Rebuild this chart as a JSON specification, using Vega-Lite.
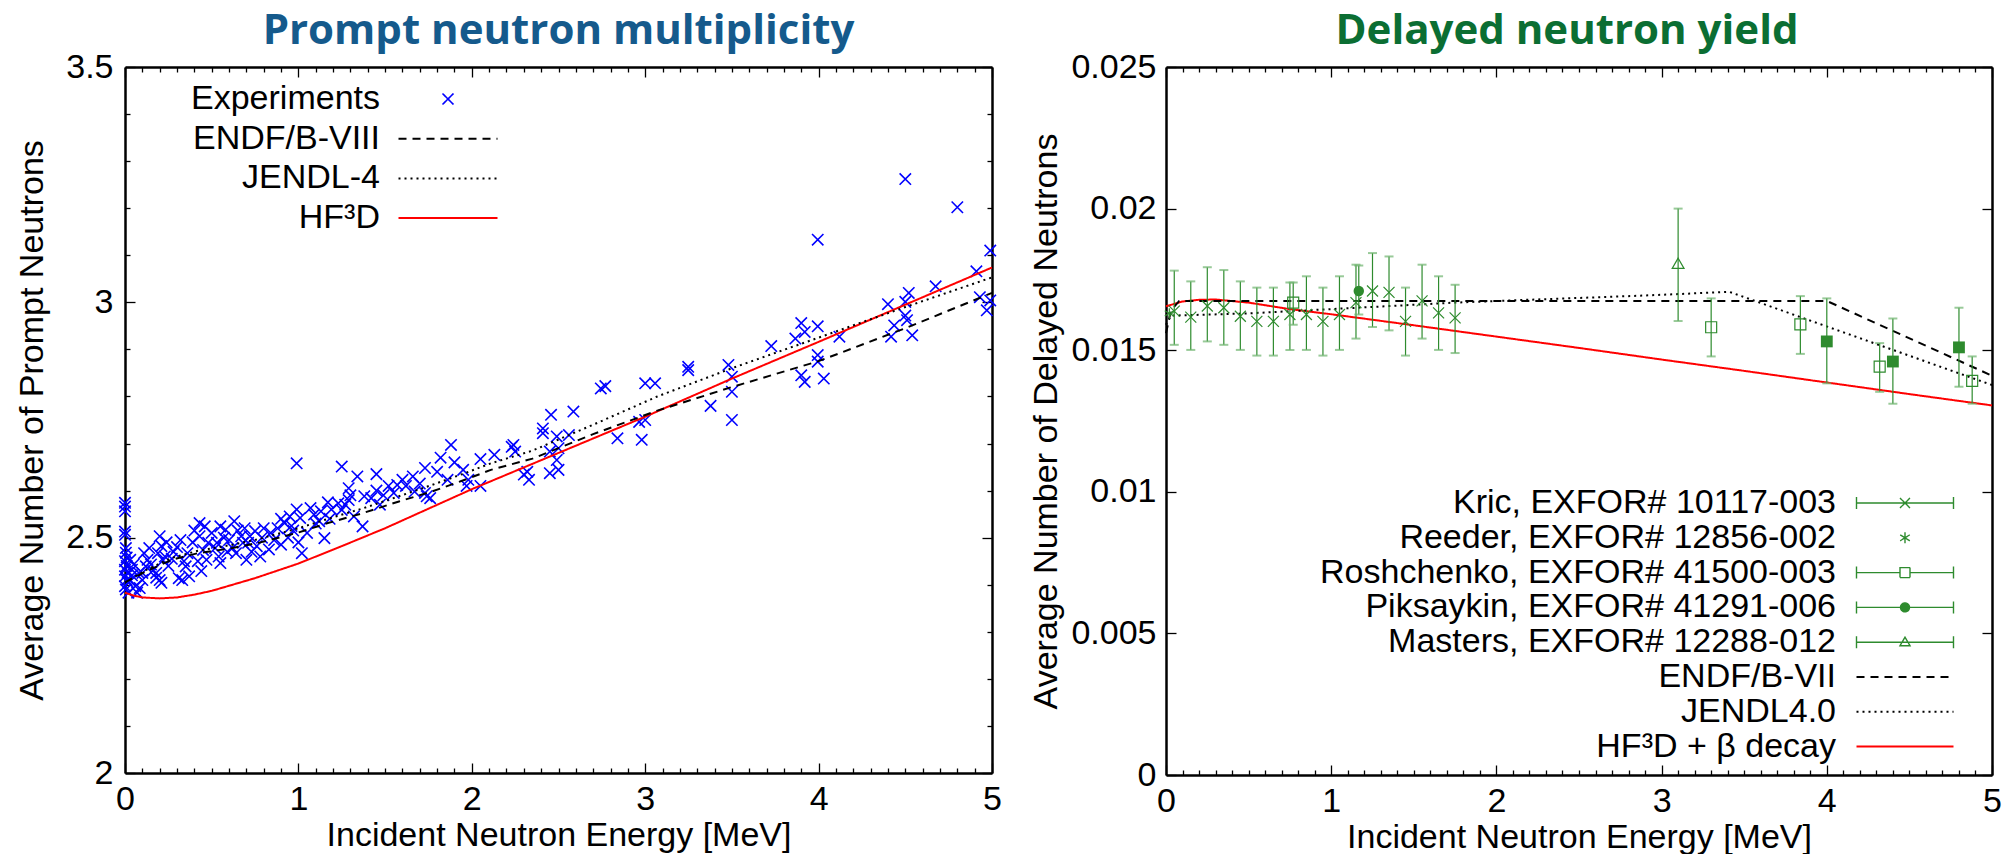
{
"$schema": "https://vega.github.io/schema/vega-lite/v6.json",
"padding": {"left": 15, "top": 10, "right": 0, "bottom": 0},
"bounds": "flush",
"spacing": 174,
"datasets": {
"left_exp": [
{"E":0,"v":2.574},{"E":0,"v":2.566},{"E":0,"v":2.556},{"E":0,"v":2.513},{"E":0,"v":2.506},{"E":0.005,"v":2.478},{"E":0.005,"v":2.468},{"E":0.01,"v":2.458},{"E":0,"v":2.45},{"E":0.01,"v":2.44},{"E":0,"v":2.432},{"E":0.015,"v":2.425},{"E":0,"v":2.418},{"E":0.01,"v":2.41},{"E":0.02,"v":2.404},{"E":0,"v":2.397},{"E":0.005,"v":2.39},{"E":0.02,"v":2.383},{"E":0.03,"v":2.453},{"E":0.04,"v":2.432},{"E":0.03,"v":2.41},{"E":0.05,"v":2.443},{"E":0.06,"v":2.397},{"E":0.07,"v":2.383},{"E":0.04,"v":2.42},{"E":0.08,"v":2.425},
{"E":0.11,"v":2.467},{"E":0.12,"v":2.439},{"E":0.1,"v":2.425},{"E":0.1,"v":2.41},{"E":0.085,"v":2.393},{"E":0.13,"v":2.453},{"E":0.15,"v":2.443},{"E":0.14,"v":2.478},{"E":0.16,"v":2.43},{"E":0.18,"v":2.415},
{"E":0.2,"v":2.41},{"E":0.21,"v":2.404},{"E":0.18,"v":2.425},{"E":0.2,"v":2.503},{"E":0.21,"v":2.482},{"E":0.19,"v":2.467},{"E":0.23,"v":2.46},{"E":0.24,"v":2.49},{"E":0.25,"v":2.44},{"E":0.22,"v":2.452},
{"E":0.36,"v":2.467},{"E":0.34,"v":2.45},{"E":0.35,"v":2.439},{"E":0.37,"v":2.418},{"E":0.33,"v":2.41},{"E":0.31,"v":2.414},{"E":0.3,"v":2.48},{"E":0.32,"v":2.495},{"E":0.28,"v":2.47},{"E":0.27,"v":2.455},
{"E":0.43,"v":2.531},{"E":0.46,"v":2.524},{"E":0.43,"v":2.503},{"E":0.48,"v":2.489},{"E":0.45,"v":2.474},{"E":0.47,"v":2.453},{"E":0.42,"v":2.45},{"E":0.44,"v":2.429},{"E":0.4,"v":2.515},{"E":0.39,"v":2.49},
{"E":0.55,"v":2.524},{"E":0.58,"v":2.517},{"E":0.57,"v":2.5},{"E":0.53,"v":2.489},{"E":0.52,"v":2.478},{"E":0.54,"v":2.46},{"E":0.55,"v":2.446},{"E":0.5,"v":2.51},{"E":0.6,"v":2.495},{"E":0.59,"v":2.47},
{"E":0.67,"v":2.503},{"E":0.68,"v":2.489},{"E":0.7,"v":2.453},{"E":0.64,"v":2.467},{"E":0.62,"v":2.478},{"E":0.65,"v":2.515},{"E":0.63,"v":2.535},{"E":0.69,"v":2.52},
{"E":0.75,"v":2.514},{"E":0.72,"v":2.503},{"E":0.71,"v":2.489},{"E":0.76,"v":2.482},{"E":0.73,"v":2.47},{"E":0.79,"v":2.5},{"E":0.8,"v":2.52},{"E":0.78,"v":2.46},
{"E":0.92,"v":2.531},{"E":0.88,"v":2.52},{"E":0.84,"v":2.51},{"E":0.86,"v":2.495},{"E":0.9,"v":2.485},{"E":0.83,"v":2.475},{"E":0.94,"v":2.5},{"E":0.9,"v":2.54},
{"E":0.99,"v":2.56},{"E":1.01,"v":2.542},{"E":0.95,"v":2.545},{"E":0.99,"v":2.658},{"E":1.02,"v":2.467},{"E":0.97,"v":2.515},{"E":1.0,"v":2.49},{"E":0.96,"v":2.525},
{"E":1.07,"v":2.563},{"E":1.09,"v":2.549},{"E":1.13,"v":2.556},{"E":1.19,"v":2.56},{"E":1.15,"v":2.499},{"E":1.1,"v":2.53},{"E":1.17,"v":2.575},{"E":1.05,"v":2.51},{"E":1.12,"v":2.535},{"E":1.18,"v":2.54},
{"E":1.25,"v":2.651},{"E":1.29,"v":2.605},{"E":1.3,"v":2.59},{"E":1.29,"v":2.58},{"E":1.23,"v":2.573},{"E":1.25,"v":2.559},{"E":1.37,"v":2.524},{"E":1.34,"v":2.63},{"E":1.32,"v":2.545},{"E":1.27,"v":2.57},
{"E":1.45,"v":2.635},{"E":1.49,"v":2.59},{"E":1.42,"v":2.584},{"E":1.38,"v":2.588},{"E":1.45,"v":2.6},{"E":1.52,"v":2.61},{"E":1.47,"v":2.57},{"E":1.55,"v":2.595},
{"E":1.6,"v":2.623},{"E":1.62,"v":2.61},{"E":1.67,"v":2.598},{"E":1.57,"v":2.612},{"E":1.73,"v":2.595},{"E":1.76,"v":2.584},{"E":1.74,"v":2.588},{"E":1.73,"v":2.648},{"E":1.66,"v":2.63},{"E":1.7,"v":2.615},
{"E":1.82,"v":2.67},{"E":1.88,"v":2.697},{"E":1.9,"v":2.66},{"E":1.95,"v":2.644},{"E":1.8,"v":2.64},{"E":1.86,"v":2.623},{"E":1.98,"v":2.623},{"E":2.05,"v":2.61},{"E":1.97,"v":2.61},{"E":2.05,"v":2.667},
{"E":2.13,"v":2.676},{"E":2.23,"v":2.693},{"E":2.25,"v":2.683},{"E":2.3,"v":2.634},{"E":2.33,"v":2.623},{"E":2.24,"v":2.697},{"E":2.32,"v":2.64},
{"E":2.41,"v":2.722},{"E":2.49,"v":2.715},{"E":2.56,"v":2.718},{"E":2.45,"v":2.683},{"E":2.5,"v":2.69},{"E":2.49,"v":2.665},{"E":2.45,"v":2.637},{"E":2.5,"v":2.644},{"E":2.457,"v":2.761},{"E":2.586,"v":2.768},{"E":2.41,"v":2.732},
{"E":2.84,"v":2.711},{"E":2.98,"v":2.708},{"E":2.77,"v":2.822},{"E":2.744,"v":2.817},{"E":2.965,"v":2.746},{"E":3.0,"v":2.75},{"E":3.0,"v":2.828},{"E":3.057,"v":2.828},
{"E":3.248,"v":2.863},{"E":3.248,"v":2.856},{"E":3.377,"v":2.78},{"E":3.48,"v":2.867},{"E":3.5,"v":2.842},{"E":3.5,"v":2.81},{"E":3.5,"v":2.75},
{"E":3.727,"v":2.907},{"E":3.866,"v":2.923},{"E":3.9,"v":2.956},{"E":3.92,"v":2.937},{"E":3.995,"v":2.949},{"E":3.9,"v":2.845},{"E":3.92,"v":2.831},{"E":3.995,"v":2.888},{"E":3.995,"v":2.874},{"E":4.03,"v":2.838},{"E":3.995,"v":3.133},{"E":4.12,"v":2.927},
{"E":4.4,"v":2.996},{"E":4.418,"v":2.927},{"E":4.436,"v":2.951},{"E":4.5,"v":2.972},{"E":4.51,"v":2.962},{"E":4.5,"v":3.001},{"E":4.52,"v":3.02},{"E":4.54,"v":2.93},{"E":4.5,"v":3.262},{"E":4.675,"v":3.034},{"E":4.8,"v":3.202},{"E":4.91,"v":3.066},{"E":4.93,"v":3.011},{"E":4.99,"v":3.004},{"E":4.97,"v":2.983},{"E":4.99,"v":3.11}
],
"left_curves": [
{"series":"HF³D","E":0,"v":2.383},{"series":"HF³D","E":0.05,"v":2.377},{"series":"HF³D","E":0.1,"v":2.373},{"series":"HF³D","E":0.2,"v":2.371},{"series":"HF³D","E":0.3,"v":2.373},{"series":"HF³D","E":0.4,"v":2.379},{"series":"HF³D","E":0.5,"v":2.387},{"series":"HF³D","E":0.75,"v":2.414},{"series":"HF³D","E":1.0,"v":2.445},{"series":"HF³D","E":1.25,"v":2.482},{"series":"HF³D","E":1.5,"v":2.52},{"series":"HF³D","E":2.0,"v":2.603},{"series":"HF³D","E":2.5,"v":2.68},{"series":"HF³D","E":3.0,"v":2.757},{"series":"HF³D","E":3.5,"v":2.838},{"series":"HF³D","E":4.0,"v":2.916},{"series":"HF³D","E":4.5,"v":2.995},{"series":"HF³D","E":5.0,"v":3.074},
{"series":"ENDF/B-VIII","E":0,"v":2.405},{"series":"ENDF/B-VIII","E":0.125,"v":2.429},{"series":"ENDF/B-VIII","E":0.27,"v":2.453},{"series":"ENDF/B-VIII","E":0.42,"v":2.467},{"series":"ENDF/B-VIII","E":0.62,"v":2.478},{"series":"ENDF/B-VIII","E":0.77,"v":2.489},{"series":"ENDF/B-VIII","E":1.0,"v":2.511},{"series":"ENDF/B-VIII","E":1.17,"v":2.531},{"series":"ENDF/B-VIII","E":1.37,"v":2.552},{"series":"ENDF/B-VIII","E":1.58,"v":2.577},{"series":"ENDF/B-VIII","E":1.77,"v":2.598},{"series":"ENDF/B-VIII","E":1.96,"v":2.623},{"series":"ENDF/B-VIII","E":2.11,"v":2.644},{"series":"ENDF/B-VIII","E":2.35,"v":2.668},{"series":"ENDF/B-VIII","E":2.7,"v":2.72},{"series":"ENDF/B-VIII","E":3.07,"v":2.77},{"series":"ENDF/B-VIII","E":3.5,"v":2.82},{"series":"ENDF/B-VIII","E":4.0,"v":2.875},{"series":"ENDF/B-VIII","E":4.5,"v":2.945},{"series":"ENDF/B-VIII","E":5.0,"v":3.02},
{"series":"JENDL-4","E":0,"v":2.405},{"series":"JENDL-4","E":0.125,"v":2.432},{"series":"JENDL-4","E":0.27,"v":2.457},{"series":"JENDL-4","E":0.42,"v":2.472},{"series":"JENDL-4","E":0.62,"v":2.485},{"series":"JENDL-4","E":0.77,"v":2.497},{"series":"JENDL-4","E":1.0,"v":2.52},{"series":"JENDL-4","E":1.17,"v":2.54},{"series":"JENDL-4","E":1.37,"v":2.562},{"series":"JENDL-4","E":1.58,"v":2.588},{"series":"JENDL-4","E":1.77,"v":2.612},{"series":"JENDL-4","E":1.96,"v":2.637},{"series":"JENDL-4","E":2.11,"v":2.658},{"series":"JENDL-4","E":2.35,"v":2.685},{"series":"JENDL-4","E":2.7,"v":2.74},{"series":"JENDL-4","E":3.07,"v":2.8},{"series":"JENDL-4","E":3.5,"v":2.86},{"series":"JENDL-4","E":4.0,"v":2.925},{"series":"JENDL-4","E":4.5,"v":2.99},{"series":"JENDL-4","E":5.0,"v":3.053}
],
"right_curves": [
{"model":"HF³D + β decay","E":0,"v":0.01655},{"model":"HF³D + β decay","E":0.1,"v":0.01672},{"model":"HF³D + β decay","E":0.2,"v":0.01678},{"model":"HF³D + β decay","E":0.3,"v":0.01679},{"model":"HF³D + β decay","E":0.5,"v":0.01668},{"model":"HF³D + β decay","E":0.75,"v":0.01645},{"model":"HF³D + β decay","E":1.0,"v":0.01627},{"model":"HF³D + β decay","E":1.5,"v":0.01588},{"model":"HF³D + β decay","E":2.0,"v":0.01548},{"model":"HF³D + β decay","E":2.5,"v":0.01508},{"model":"HF³D + β decay","E":3.0,"v":0.01467},{"model":"HF³D + β decay","E":3.5,"v":0.01427},{"model":"HF³D + β decay","E":4.0,"v":0.01386},{"model":"HF³D + β decay","E":4.5,"v":0.01345},{"model":"HF³D + β decay","E":5.0,"v":0.01305},
{"model":"ENDF/B-VII","E":0,"v":0.0156},{"model":"ENDF/B-VII","E":0.03,"v":0.0164},{"model":"ENDF/B-VII","E":0.08,"v":0.01674},{"model":"ENDF/B-VII","E":4.0,"v":0.01674},{"model":"ENDF/B-VII","E":5.0,"v":0.0141},
{"model":"JENDL4.0","E":0,"v":0.0159},{"model":"JENDL4.0","E":0.03,"v":0.01622},{"model":"JENDL4.0","E":0.5,"v":0.0163},{"model":"JENDL4.0","E":1.16,"v":0.0165},{"model":"JENDL4.0","E":1.75,"v":0.01668},{"model":"JENDL4.0","E":2.1,"v":0.01676},{"model":"JENDL4.0","E":2.85,"v":0.01692},{"model":"JENDL4.0","E":3.41,"v":0.01706},{"model":"JENDL4.0","E":5.0,"v":0.01377}
],
"right_exp": [
{"series":"Kric","E":0.05,"v":0.01638,"lo":0.01519,"hi":0.01781},
{"series":"Kric","E":0.15,"v":0.01617,"lo":0.01501,"hi":0.01743},
{"series":"Kric","E":0.25,"v":0.01656,"lo":0.01531,"hi":0.01793},
{"series":"Kric","E":0.35,"v":0.0165,"lo":0.01519,"hi":0.01783},
{"series":"Kric","E":0.45,"v":0.0162,"lo":0.01501,"hi":0.01743},
{"series":"Kric","E":0.55,"v":0.01602,"lo":0.01481,"hi":0.01721},
{"series":"Kric","E":0.65,"v":0.01602,"lo":0.01481,"hi":0.01721},
{"series":"Kric","E":0.75,"v":0.01626,"lo":0.01501,"hi":0.01739},
{"series":"Kric","E":0.85,"v":0.01626,"lo":0.01501,"hi":0.01761},
{"series":"Kric","E":0.95,"v":0.01602,"lo":0.01481,"hi":0.01721},
{"series":"Kric","E":1.05,"v":0.01626,"lo":0.01501,"hi":0.01761},
{"series":"Kric","E":1.15,"v":0.01668,"lo":0.01541,"hi":0.01802},
{"series":"Kric","E":1.25,"v":0.01709,"lo":0.01582,"hi":0.01843},
{"series":"Kric","E":1.35,"v":0.01704,"lo":0.0157,"hi":0.01831},
{"series":"Kric","E":1.45,"v":0.01602,"lo":0.01481,"hi":0.01721},
{"series":"Kric","E":1.55,"v":0.01674,"lo":0.01541,"hi":0.01802},
{"series":"Kric","E":1.65,"v":0.01632,"lo":0.01501,"hi":0.01761},
{"series":"Kric","E":1.75,"v":0.01614,"lo":0.0149,"hi":0.01731},
{"series":"Reeder","E":0.02,"v":0.0163,"lo":null,"hi":null},
{"series":"Roshchenko","E":0.77,"v":0.01668,"lo":0.0159,"hi":0.01739},
{"series":"Roshchenko","E":3.3,"v":0.01581,"lo":0.01478,"hi":0.01683},
{"series":"Roshchenko","E":3.84,"v":0.01591,"lo":0.01487,"hi":0.01691},
{"series":"Roshchenko","E":4.32,"v":0.01442,"lo":0.01353,"hi":0.01525},
{"series":"Roshchenko","E":4.88,"v":0.01392,"lo":0.01311,"hi":0.01478},
{"series":"Piksaykin","E":1.167,"v":0.01709,"lo":0.01626,"hi":0.01799},
{"series":"PiksaykinSq","E":4.0,"v":0.01531,"lo":0.01383,"hi":0.01683},
{"series":"PiksaykinSq","E":4.4,"v":0.0146,"lo":0.01311,"hi":0.01612},
{"series":"PiksaykinSq","E":4.8,"v":0.0151,"lo":0.01371,"hi":0.0165},
{"series":"Masters","E":3.1,"v":0.01807,"lo":0.01603,"hi":0.02}
]
},
"hconcat": [
{
"width": 867, "height": 706,
"title": {"text": "Prompt neutron multiplicity", "font": "Open Sans", "fontSize": 42, "fontWeight": "bold", "color": "#155A8C", "offset": -45, "baseline": "bottom", "anchor": "middle"},
"layer": [
{
"data": {"name": "left_exp"},
"mark": {"type": "point", "shape": "M-1,-1L1,1M-1,1L1,-1", "size": 130, "filled": false, "color": "#0000FF", "strokeWidth": 1.6, "opacity": 1},
"encoding": {
"x": {"field": "E", "type": "quantitative", "scale": {"domain": [0, 5], "nice": false, "zero": false},
"axis": {"orient": "bottom", "values": [0,0.1,0.2,0.3,0.4,0.5,0.6,0.7,0.8,0.9,1,1.1,1.2,1.3,1.4,1.5,1.6,1.7,1.8,1.9,2,2.1,2.2,2.3,2.4,2.5,2.6,2.7,2.8,2.9,3,3.1,3.2,3.3,3.4,3.5,3.6,3.7,3.8,3.9,4,4.1,4.2,4.3,4.4,4.5,4.6,4.7,4.8,4.9,5],
"labelExpr": "datum.value == round(datum.value) ? format(datum.value, 'd') : ''",
"tickSize": {"condition": {"test": "datum.value == round(datum.value)", "value": -10}, "value": -5},
"labelPadding": 19, "labelAngle": 0, "title": "Incident Neutron Energy [MeV]", "titlePadding": -3}},
"y": {"field": "v", "type": "quantitative", "scale": {"domain": [2, 3.5], "nice": false, "zero": false},
"axis": {"orient": "left", "values": [2,2.1,2.2,2.3,2.4,2.5,2.6,2.7,2.8,2.9,3,3.1,3.2,3.3,3.4,3.5],
"labelExpr": "datum.value*2 == round(datum.value*2) ? format(datum.value, '~g') : ''",
"tickSize": {"condition": {"test": "datum.value*2 == round(datum.value*2)", "value": -10}, "value": -5},
"labelPadding": 22, "title": "Average Number of Prompt Neutrons", "titlePadding": 16}}
}
},
{
"data": {"name": "left_curves"},
"mark": {"type": "line", "strokeWidth": 2},
"encoding": {
"x": {"field": "E", "type": "quantitative", "scale": {"domain": [0, 5], "nice": false, "zero": false},
"axis": {"orient": "top", "values": [0,0.1,0.2,0.3,0.4,0.5,0.6,0.7,0.8,0.9,1,1.1,1.2,1.3,1.4,1.5,1.6,1.7,1.8,1.9,2,2.1,2.2,2.3,2.4,2.5,2.6,2.7,2.8,2.9,3,3.1,3.2,3.3,3.4,3.5,3.6,3.7,3.8,3.9,4,4.1,4.2,4.3,4.4,4.5,4.6,4.7,4.8,4.9,5],
"labels": false, "title": null,
"tickSize": {"condition": {"test": "datum.value == round(datum.value)", "value": -10}, "value": -5}}},
"y": {"field": "v", "type": "quantitative", "scale": {"domain": [2, 3.5], "nice": false, "zero": false},
"axis": {"orient": "right", "values": [2,2.1,2.2,2.3,2.4,2.5,2.6,2.7,2.8,2.9,3,3.1,3.2,3.3,3.4,3.5],
"labels": false, "title": null,
"tickSize": {"condition": {"test": "datum.value*2 == round(datum.value*2)", "value": -10}, "value": -5}}},
"color": {"field": "series", "type": "nominal",
"scale": {"domain": ["Experiments", "ENDF/B-VIII", "JENDL-4", "HF³D"], "range": ["#0000FF", "#000000", "#000000", "#FF0000"]},
"legend": {"orient": "none", "legendX": 306, "legendY": 15, "title": null, "padding": 0,
"labelFont": "Liberation Sans", "labelFontSize": 34, "labelColor": "#000000", "labelLimit": 1000,
"rowPadding": 5.7, "symbolSize": 400, "symbolStrokeWidth": 2,
"encode": {
"symbols": {"update": {
"shape": {"signal": "datum.value === 'Experiments' ? 'M-0.55,-0.55L0.55,0.55M-0.55,0.55L0.55,-0.55' : 'M-4.95,0H4.95'"},
"stroke": {"signal": "datum.value === 'Experiments' ? '#0000FF' : datum.value === 'HF³D' ? '#FF0000' : '#000000'"},
"strokeDash": {"signal": "datum.value === 'ENDF/B-VIII' ? [8,6] : datum.value === 'JENDL-4' ? [2,4] : [1,0]"},
"strokeWidth": {"signal": "datum.value === 'Experiments' ? 1.6 : 2"},
"fill": {"value": "transparent"},
"opacity": {"value": 1}
}},
"labels": {"update": {"x": {"value": -51}, "align": {"value": "right"}}}
}}},
"strokeDash": {"field": "series", "type": "nominal",
"scale": {"domain": ["ENDF/B-VIII", "JENDL-4", "HF³D"], "range": [[8, 6], [2, 4], [1, 0]]}, "legend": null}
}
}
],
"resolve": {"axis": {"x": "independent", "y": "independent"}}
},
{
"width": 826, "height": 708,
"title": {"text": "Delayed neutron yield", "font": "Open Sans", "fontSize": 42, "fontWeight": "bold", "color": "#0B6E33", "offset": -45, "baseline": "bottom", "anchor": "middle", "dx": -12},
"layer": [
{
"data": {"name": "right_curves"},
"mark": {"type": "line", "strokeWidth": 2},
"encoding": {
"x": {"field": "E", "type": "quantitative", "scale": {"domain": [0, 5], "nice": false, "zero": false},
"axis": {"orient": "bottom", "values": [0,0.1,0.2,0.3,0.4,0.5,0.6,0.7,0.8,0.9,1,1.1,1.2,1.3,1.4,1.5,1.6,1.7,1.8,1.9,2,2.1,2.2,2.3,2.4,2.5,2.6,2.7,2.8,2.9,3,3.1,3.2,3.3,3.4,3.5,3.6,3.7,3.8,3.9,4,4.1,4.2,4.3,4.4,4.5,4.6,4.7,4.8,4.9,5],
"labelExpr": "datum.value == round(datum.value) ? format(datum.value, 'd') : ''",
"tickSize": {"condition": {"test": "datum.value == round(datum.value)", "value": -10}, "value": -5},
"labelPadding": 19, "labelAngle": 0, "title": "Incident Neutron Energy [MeV]", "titlePadding": -3}},
"y": {"field": "v", "type": "quantitative", "scale": {"domain": [0, 0.025], "nice": false, "zero": false},
"axis": {"orient": "left", "values": [0, 0.005, 0.01, 0.015, 0.02, 0.025], "format": "~g",
"tickSize": -10, "labelPadding": 20, "title": "Average Number of Delayed Neutrons", "titlePadding": 7}},
"color": {"field": "model", "type": "nominal",
"scale": {"domain": ["Kric, EXFOR# 10117-003", "Reeder, EXFOR# 12856-002", "Roshchenko, EXFOR# 41500-003", "Piksaykin, EXFOR# 41291-006", "Masters, EXFOR# 12288-012", "ENDF/B-VII", "JENDL4.0", "HF³D + β decay"],
"range": ["#2E8B2E", "#2E8B2E", "#2E8B2E", "#2E8B2E", "#2E8B2E", "#000000", "#000000", "#FF0000"]},
"legend": {"orient": "none", "legendX": 722, "legendY": 419, "title": null, "padding": 0,
"labelFont": "Liberation Sans", "labelFontSize": 34, "labelColor": "#000000", "labelLimit": 1000,
"rowPadding": 0.8, "symbolSize": 400, "symbolStrokeWidth": 2,
"encode": {
"symbols": {"update": {
"shape": {"signal": "datum.value === 'Kric, EXFOR# 10117-003' ? 'M-4.85,0H4.85M-4.85,-0.6V0.6M4.85,-0.6V0.6M-0.5,-0.5L0.5,0.5M-0.5,0.5L0.5,-0.5' : datum.value === 'Reeder, EXFOR# 12856-002' ? 'M0,-0.55V0.55M-0.48,-0.3L0.48,0.3M-0.48,0.3L0.48,-0.3' : datum.value === 'Roshchenko, EXFOR# 41500-003' ? 'M-4.85,0H-0.5M0.5,0H4.85M-4.85,-0.6V0.6M4.85,-0.6V0.6M-0.5,-0.5H0.5V0.5H-0.5Z' : datum.value === 'Piksaykin, EXFOR# 41291-006' ? 'M-4.85,0H4.85M-4.85,-0.6V0.6M4.85,-0.6V0.6M0.45,0A0.45,0.45,0,1,1,-0.45,0A0.45,0.45,0,1,1,0.45,0Z' : datum.value === 'Masters, EXFOR# 12288-012' ? 'M-4.85,0H4.85M-4.85,-0.6V0.6M4.85,-0.6V0.6M0,-0.5L0.5,0.35H-0.5Z' : 'M-4.85,0H4.85'"},
"stroke": {"signal": "datum.value === 'ENDF/B-VII' || datum.value === 'JENDL4.0' ? '#000000' : datum.value === 'HF³D + β decay' ? '#FF0000' : '#2E8B2E'"},
"strokeDash": {"signal": "datum.value === 'ENDF/B-VII' ? [8,6] : datum.value === 'JENDL4.0' ? [2,4] : [1,0]"},
"strokeWidth": {"signal": "datum.value === 'ENDF/B-VII' || datum.value === 'JENDL4.0' || datum.value === 'HF³D + β decay' ? 2 : 1.4"},
"fill": {"signal": "datum.value === 'Piksaykin, EXFOR# 41291-006' ? '#2E8B2E' : 'transparent'"},
"opacity": {"value": 1}
}},
"labels": {"update": {"x": {"value": -52}, "align": {"value": "right"}}}
}}},
"strokeDash": {"field": "model", "type": "nominal",
"scale": {"domain": ["ENDF/B-VII", "JENDL4.0", "HF³D + β decay"], "range": [[8, 6], [2, 4], [1, 0]]}, "legend": null}
}
},
{
"data": {"name": "right_exp"},
"transform": [{"filter": "isValid(datum.lo)"}],
"mark": {"type": "rule", "color": "#2E8B2E", "strokeWidth": 1.2},
"encoding": {
"x": {"field": "E", "type": "quantitative", "scale": {"domain": [0, 5], "nice": false, "zero": false},
"axis": {"orient": "top", "values": [0,0.1,0.2,0.3,0.4,0.5,0.6,0.7,0.8,0.9,1,1.1,1.2,1.3,1.4,1.5,1.6,1.7,1.8,1.9,2,2.1,2.2,2.3,2.4,2.5,2.6,2.7,2.8,2.9,3,3.1,3.2,3.3,3.4,3.5,3.6,3.7,3.8,3.9,4,4.1,4.2,4.3,4.4,4.5,4.6,4.7,4.8,4.9,5],
"labels": false, "title": null,
"tickSize": {"condition": {"test": "datum.value == round(datum.value)", "value": -10}, "value": -5}}},
"y": {"field": "lo", "type": "quantitative", "scale": {"domain": [0, 0.025], "nice": false, "zero": false},
"axis": {"orient": "right", "values": [0, 0.005, 0.01, 0.015, 0.02, 0.025], "labels": false, "title": null, "tickSize": -10}},
"y2": {"field": "hi"}
}
},
{
"data": {"name": "right_exp"},
"transform": [{"filter": "isValid(datum.lo)"}],
"mark": {"type": "tick", "orient": "horizontal", "color": "#6DB36D", "size": 9, "thickness": 2},
"encoding": {
"x": {"field": "E", "type": "quantitative", "scale": {"domain": [0, 5], "nice": false, "zero": false}, "axis": null},
"y": {"field": "lo", "type": "quantitative", "scale": {"domain": [0, 0.025], "nice": false, "zero": false}, "axis": null}
}
},
{
"data": {"name": "right_exp"},
"transform": [{"filter": "isValid(datum.hi)"}],
"mark": {"type": "tick", "orient": "horizontal", "color": "#6DB36D", "size": 9, "thickness": 2},
"encoding": {
"x": {"field": "E", "type": "quantitative", "scale": {"domain": [0, 5], "nice": false, "zero": false}, "axis": null},
"y": {"field": "hi", "type": "quantitative", "scale": {"domain": [0, 0.025], "nice": false, "zero": false}, "axis": null}
}
},
{
"data": {"name": "right_exp"},
"transform": [{"filter": "datum.series === 'Kric'"}],
"mark": {"type": "point", "shape": "M-1,-1L1,1M-1,1L1,-1", "size": 121, "filled": false, "color": "#2E8B2E", "strokeWidth": 1.2, "opacity": 1},
"encoding": {
"x": {"field": "E", "type": "quantitative", "scale": {"domain": [0, 5], "nice": false, "zero": false}, "axis": null},
"y": {"field": "v", "type": "quantitative", "scale": {"domain": [0, 0.025], "nice": false, "zero": false}, "axis": null}
}
},
{
"data": {"name": "right_exp"},
"transform": [{"filter": "datum.series === 'Reeder'"}],
"mark": {"type": "point", "shape": "M0,-1V1M-0.87,-0.5L0.87,0.5M-0.87,0.5L0.87,-0.5", "size": 110, "filled": false, "color": "#2E8B2E", "strokeWidth": 1.2, "opacity": 1},
"encoding": {
"x": {"field": "E", "type": "quantitative", "scale": {"domain": [0, 5], "nice": false, "zero": false}, "axis": null},
"y": {"field": "v", "type": "quantitative", "scale": {"domain": [0, 0.025], "nice": false, "zero": false}, "axis": null}
}
},
{
"data": {"name": "right_exp"},
"transform": [{"filter": "datum.series === 'Roshchenko'"}],
"mark": {"type": "point", "shape": "square", "size": 121, "filled": false, "color": "#2E8B2E", "strokeWidth": 1.2, "opacity": 1},
"encoding": {
"x": {"field": "E", "type": "quantitative", "scale": {"domain": [0, 5], "nice": false, "zero": false}, "axis": null},
"y": {"field": "v", "type": "quantitative", "scale": {"domain": [0, 0.025], "nice": false, "zero": false}, "axis": null}
}
},
{
"data": {"name": "right_exp"},
"transform": [{"filter": "datum.series === 'Piksaykin'"}],
"mark": {"type": "point", "shape": "circle", "size": 110, "filled": true, "color": "#2E8B2E", "opacity": 1},
"encoding": {
"x": {"field": "E", "type": "quantitative", "scale": {"domain": [0, 5], "nice": false, "zero": false}, "axis": null},
"y": {"field": "v", "type": "quantitative", "scale": {"domain": [0, 0.025], "nice": false, "zero": false}, "axis": null}
}
},
{
"data": {"name": "right_exp"},
"transform": [{"filter": "datum.series === 'PiksaykinSq'"}],
"mark": {"type": "point", "shape": "square", "size": 140, "filled": true, "color": "#2E8B2E", "opacity": 1},
"encoding": {
"x": {"field": "E", "type": "quantitative", "scale": {"domain": [0, 5], "nice": false, "zero": false}, "axis": null},
"y": {"field": "v", "type": "quantitative", "scale": {"domain": [0, 0.025], "nice": false, "zero": false}, "axis": null}
}
},
{
"data": {"name": "right_exp"},
"transform": [{"filter": "datum.series === 'Masters'"}],
"mark": {"type": "point", "shape": "triangle-up", "size": 140, "filled": false, "color": "#2E8B2E", "strokeWidth": 1.2, "opacity": 1},
"encoding": {
"x": {"field": "E", "type": "quantitative", "scale": {"domain": [0, 5], "nice": false, "zero": false}, "axis": null},
"y": {"field": "v", "type": "quantitative", "scale": {"domain": [0, 0.025], "nice": false, "zero": false}, "axis": null}
}
}
],
"resolve": {"axis": {"x": "independent", "y": "independent"}}
}
],
"resolve": {"scale": {"color": "independent", "strokeDash": "independent"}, "legend": {"color": "independent"}},
"config": {
"view": {"stroke": null},
"axis": {"domainColor": "#000000", "domainWidth": 2.5, "tickColor": "#000000", "tickWidth": 1.3,
"labelFont": "Liberation Sans", "labelFontSize": 34, "labelColor": "#000000",
"titleFont": "Liberation Sans", "titleFontSize": 34, "titleFontWeight": "normal", "titleColor": "#000000",
"grid": false, "labelOverlap": false, "labelFlush": false, "labelBound": false}
}
}
